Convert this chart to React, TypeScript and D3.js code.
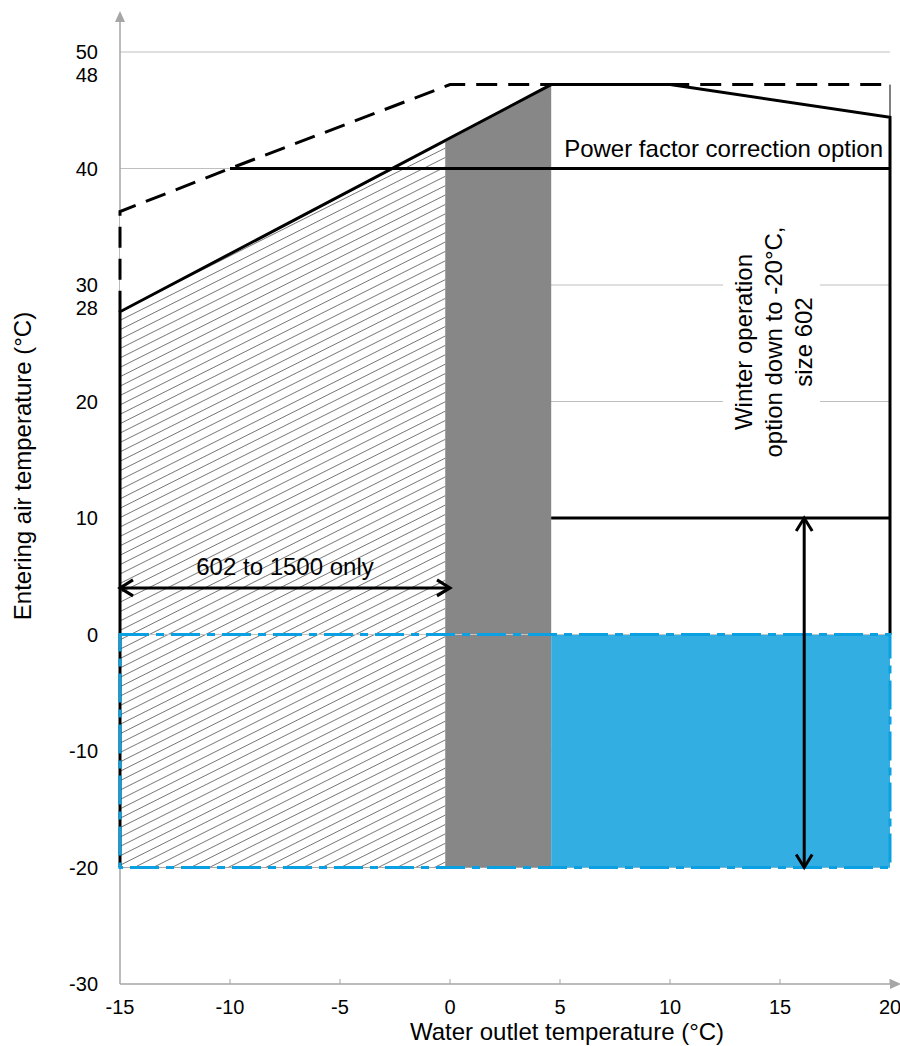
import React from "react";
import * as d3 from "d3";

// axis ticks
const xTicks = [-15, -10, -5, 0, 5, 10, 15, 20];
const yTicks = [50, 48, 40, 30, 28, 20, 10, 0, -10, -20, -30];
const gridValues = [50, 40, 30, 20, 10, 0, -10, -20];

// operating envelope (water outlet °C, entering air °C)
const solidEnvelope: [number, number][] = [
  [-15, -20], [-15, 27.7], [4.6, 47.2], [10, 47.2], [20, 44.4], [20, 0],
];
const dashedEnvelope: [number, number][] = [
  [-15, 27.7], [-15, 36.3], [-10, 40], [0, 47.2], [20, 47.2],
];
const rightTick: [number, number][] = [[20, 47.2], [20, 44.4]];
const powerFactorLine: [number, number][] = [[-10, 40], [20, 40]];
const winterLine: [number, number][] = [[4.6, 10], [20, 10]];

const hatchArea: [number, number][] = [[-15, -20], [-15, 27.7], [-0.2, 42.3], [-0.2, -20]];
const grayArea: [number, number][] = [[-0.2, -20], [-0.2, 42.3], [4.6, 47.2], [4.6, -20]];
const blueArea: [number, number][] = [[4.6, -20], [4.6, 0], [20, 0], [20, -20]];
const blueBorder: [number, number][] = [[-15, 0], [20, 0], [20, -20], [-15, -20]];

// arrows
const sizeArrow: [number, number][] = [[-15, 4], [0, 4]];
const winterArrow: [number, number][] = [[16.1, 10], [16.1, -20]];

const winterText = ["Winter operation", "option down to -20°C,", "size 602"];

const FONT = "'Liberation Sans', Arial, sans-serif";

export default function App() {
  const width = 900;
  const height = 1046;
  const x = d3.scaleLinear().domain([-15, 20]).range([120, 890]);
  const y = d3.scaleLinear().domain([-30, 50]).range([984, 52]);
  const line = d3.line<[number, number]>().x((d) => x(d[0])).y((d) => y(d[1]));
  const poly = (pts: [number, number][]) => line(pts) + "Z";

  // white gap between dashed and solid envelope (covers grid)
  const gapPoly: [number, number][] = [
    ...dashedEnvelope,
    [20, 44.4], [10, 47.2], [4.6, 47.2],
  ];

  const arrowHead = (tip: [number, number], dir: [number, number]) => {
    const [tx, ty] = [x(tip[0]), y(tip[1])];
    const L = 13, W = 8;
    const [dx, dy] = dir;
    const px = -dy, py = dx;
    return `M${tx - dx * L + px * W},${ty - dy * L + py * W}L${tx},${ty}L${tx - dx * L - px * W},${ty - dy * L - py * W}`;
  };

  const cx = 774;
  const cy = 342;

  return (
    <svg width={width} height={height} style={{ display: "block", position: "absolute", left: 0, top: 0 }}>
      <defs>
        <pattern id="hatch" patternUnits="userSpaceOnUse" width={10} height={8.4} patternTransform="rotate(-26.6)">
          <rect width={10} height={8.4} fill="#fff" />
          <line x1={0} y1={4.2} x2={10} y2={4.2} stroke="#707070" strokeWidth={0.9} />
        </pattern>
      </defs>
      <rect width={width} height={height} fill="#fff" />

      {/* grid */}
      {gridValues.map((v) => (
        <line key={v} x1={x(-15)} x2={x(20)} y1={y(v)} y2={y(v)} stroke="#bfbfbf" strokeWidth={1} />
      ))}

      {/* axes */}
      <line x1={x(-15)} x2={x(-15)} y1={y(-30)} y2={20} stroke="#a6a6a6" strokeWidth={1.5} />
      <path d={`M${x(-15) - 5},22L${x(-15)},11L${x(-15) + 5},22Z`} fill="#a6a6a6" />
      <line x1={x(-15)} x2={891} y1={y(-30)} y2={y(-30)} stroke="#a6a6a6" strokeWidth={1.5} />
      <path d={`M890,${y(-30) - 5}L901,${y(-30)}L890,${y(-30) + 5}Z`} fill="#a6a6a6" />
      {xTicks.slice(1).map((v) => (
        <line key={v} x1={x(v)} x2={x(v)} y1={y(-30)} y2={y(-30) - 5} stroke="#a6a6a6" strokeWidth={1} />
      ))}

      {/* tick labels */}
      {xTicks.map((v) => (
        <text key={v} x={x(v)} y={1014} textAnchor="middle" fontFamily={FONT} fontSize={20} fill="#000">
          {v}
        </text>
      ))}
      {yTicks.map((v) => (
        <text key={v} x={98} y={y(v) + 7} textAnchor="end" fontFamily={FONT} fontSize={20} fill="#000">
          {v}
        </text>
      ))}

      {/* axis titles */}
      <text x={567} y={1040} textAnchor="middle" fontFamily={FONT} fontSize={24} fill="#000">
        Water outlet temperature (°C)
      </text>
      <text transform="translate(31,466) rotate(-90)" textAnchor="middle" fontFamily={FONT} fontSize={24} fill="#000">
        Entering air temperature (°C)
      </text>

      {/* areas */}
      <path d={poly(gapPoly)} fill="#fff" />
      <path d={poly(hatchArea)} fill="url(#hatch)" stroke="#9a9a9a" strokeWidth={0.8} />
      <path d={poly(grayArea)} fill="#878787" />
      <path d={poly(blueArea)} fill="#33aee3" />
      <line x1={x(-15)} x2={x(20)} y1={y(0)} y2={y(0)} stroke="#c4c4c4" strokeWidth={1} />

      {/* envelope lines */}
      <path d={line(solidEnvelope)!} fill="none" stroke="#000" strokeWidth={3} strokeLinejoin="miter" />
      <path d={line(dashedEnvelope)!} fill="none" stroke="#000" strokeWidth={3} strokeDasharray="21 11" />
      <path d={line(rightTick)!} fill="none" stroke="#000" strokeWidth={1} />
      <path d={line(powerFactorLine)!} fill="none" stroke="#000" strokeWidth={3} />
      <path d={line(winterLine)!} fill="none" stroke="#000" strokeWidth={3} />
      <path d={poly(blueBorder)} fill="none" stroke="#0aa0e2" strokeWidth={3} strokeDasharray="29 7 8 7" />

      {/* arrows */}
      <path d={line(sizeArrow)!} stroke="#000" strokeWidth={3} fill="none" />
      <path d={arrowHead(sizeArrow[0], [-1, 0])} stroke="#000" strokeWidth={3} fill="none" />
      <path d={arrowHead(sizeArrow[1], [1, 0])} stroke="#000" strokeWidth={3} fill="none" />
      <path d={line(winterArrow)!} stroke="#000" strokeWidth={3} fill="none" />
      <path d={arrowHead(winterArrow[0], [0, -1])} stroke="#000" strokeWidth={3} fill="none" />
      <path d={arrowHead(winterArrow[1], [0, 1])} stroke="#000" strokeWidth={3} fill="none" />

      {/* annotations */}
      <text x={883} y={157} textAnchor="end" fontFamily={FONT} fontSize={24} fill="#000">
        Power factor correction option
      </text>
      <text x={285} y={575} textAnchor="middle" fontFamily={FONT} fontSize={24} fill="#000">
        602 to 1500 only
      </text>
      <rect x={723} y={222} width={97} height={242} fill="#fff" />
      <g transform={`translate(${cx},${cy}) rotate(-90)`}>
        {winterText.map((t, i) => (
          <text key={t} x={0} y={(i - 1) * 30} dy="0.35em" textAnchor="middle" fontFamily={FONT} fontSize={24} fill="#000">
            {t}
          </text>
        ))}
      </g>
    </svg>
  );
}
